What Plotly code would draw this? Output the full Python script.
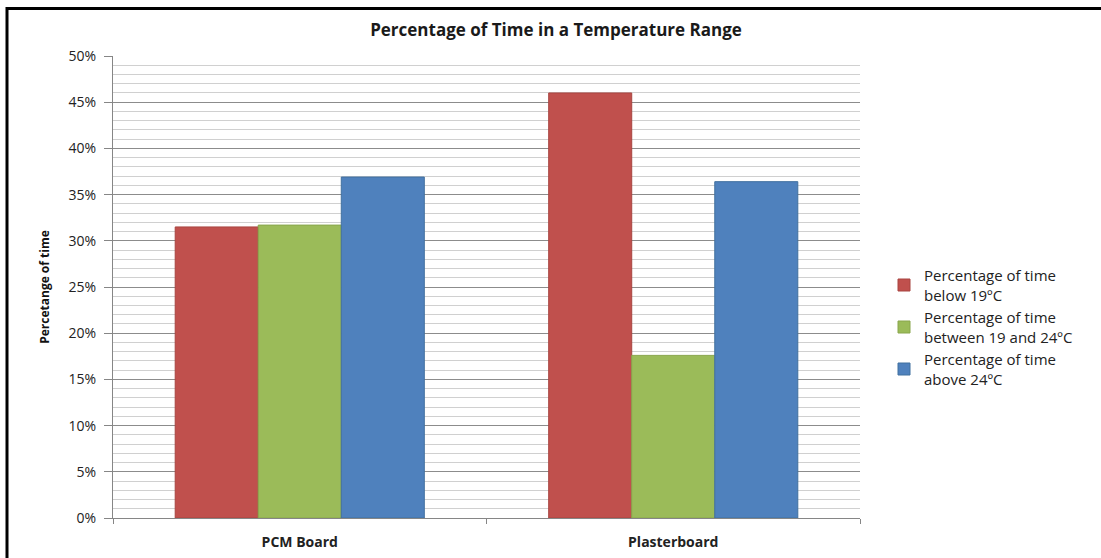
import plotly.graph_objects as go

categories = ["PCM Board", "Plasterboard"]
series_names = [
    "Percentage of time<br>below 19ºC",
    "Percentage of time<br>between 19 and 24ºC",
    "Percentage of time<br>above 24ºC",
]
below_19 = [31.5, 46.0]
between_19_24 = [31.7, 17.6]
above_24 = [36.9, 36.4]
colors = ["#C0504D", "#9BBB59", "#4F81BD"]
edge_colors = ["#A84441", "#89A64C", "#41709F"]

FONT = "Open Sans"

fig = go.Figure()
for name, vals, c, e in zip(series_names, [below_19, between_19_24, above_24], colors, edge_colors):
    fig.add_trace(go.Bar(
        x=categories, y=vals, name=name,
        marker=dict(color=c, line=dict(color=e, width=1)),
    ))

L, R, T, B = 113, 241, 56, 40
W, H = 1101, 558
pw, ph = W - L - R, H - T - B

fig.update_layout(
    width=W, height=H,
    margin=dict(l=L, r=R, t=T, b=B, autoexpand=False),
    paper_bgcolor="white", plot_bgcolor="white",
    barmode="group", bargap=0.333, bargroupgap=0,
    title=dict(text="<b>Percentage of Time in a Temperature Range</b>",
               x=(556 - L) / pw, xref="paper", xanchor="center",
               y=1 - 30 / H, yanchor="middle",
               font=dict(family=FONT, size=17, color="#1a1a1a")),
    font=dict(family=FONT, color="#222"),
    modebar=dict(bgcolor="rgba(0,0,0,0)", color="rgba(0,0,0,0)",
                 activecolor="rgba(0,0,0,0)"),
    showlegend=True,
    legend=dict(x=(884 - L) / pw, xanchor="left", y=(518 - 259) / ph, yanchor="top",
                font=dict(family=FONT, size=15, color="#222"),
                bgcolor="rgba(0,0,0,0)", traceorder="normal",
                itemwidth=30),
    xaxis=dict(
        automargin=False,
        showgrid=False, showline=True, linecolor="#868686", linewidth=1,
        ticks="outside", ticklen=5, tickcolor="#868686", tickson="boundaries",
        tickfont=dict(family=FONT, size=14, color="#222"),
        tickprefix="<b>", ticksuffix="</b>", ticklabelstandoff=11,
    ),
    yaxis=dict(
        automargin=False,
        range=[0, 50], dtick=5, ticksuffix="%",
        showgrid=True, gridcolor="#8c8c8c", gridwidth=1,
        minor=dict(dtick=1, showgrid=True, gridcolor="#d0d0d0", gridwidth=1),
        showline=True, linecolor="#868686", linewidth=1,
        ticks="outside", ticklen=8, tickcolor="#868686",
        tickfont=dict(family=FONT, size=14, color="#222"),
        ticklabelstandoff=5,
        title=dict(text="<b>Percetange of time</b>", standoff=16,
                   font=dict(family=FONT, size=12, color="#111")),
        zeroline=False,
    ),
)

# outer frame (left and top edges of the original chart border)
x_left = (7 - L) / pw
x_right = (W + 5 - L) / pw
y_top = (518 - 8.5) / ph
y_bottom = (518 - H - 5) / ph
fig.add_shape(type="path", xref="paper", yref="paper",
              path=f"M {x_left},{y_bottom} L {x_left},{y_top} L {x_right},{y_top}",
              line=dict(color="black", width=3), fillcolor="rgba(0,0,0,0)")

fig.write_html("out.html", config={"displaylogo": False},
               post_script="document.body.style.margin='0px';")
